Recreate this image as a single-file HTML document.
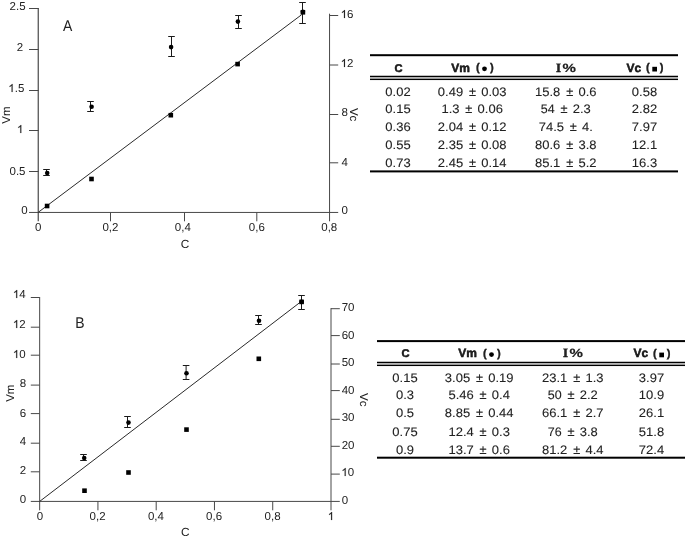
<!DOCTYPE html>
<html><head><meta charset="utf-8"><title>Figure</title>
<style>
html,body{margin:0;padding:0;background:#fff;}
body{width:685px;height:541px;overflow:hidden;}
svg{display:block;will-change:transform;}
text{font-family:"Liberation Sans", sans-serif;fill:#222;text-rendering:geometricPrecision;}
</style></head>
<body>
<svg width="685" height="541" viewBox="0 0 685 541">
<line x1="38.25" y1="8.00" x2="38.25" y2="221.30" stroke="#484848" stroke-width="1.2"/>
<line x1="29.00" y1="212.45" x2="338.20" y2="212.45" stroke="#484848" stroke-width="1.0"/>
<line x1="329.55" y1="13.70" x2="329.55" y2="221.30" stroke="#484848" stroke-width="1.0"/>
<line x1="29.00" y1="8.50" x2="38.60" y2="8.50" stroke="#484848" stroke-width="1.0"/>
<line x1="29.00" y1="49.50" x2="38.60" y2="49.50" stroke="#484848" stroke-width="1.0"/>
<line x1="29.00" y1="90.50" x2="38.60" y2="90.50" stroke="#484848" stroke-width="1.0"/>
<line x1="29.00" y1="130.50" x2="38.60" y2="130.50" stroke="#484848" stroke-width="1.0"/>
<line x1="29.00" y1="171.50" x2="38.60" y2="171.50" stroke="#484848" stroke-width="1.0"/>
<text x="27.70" y="213.90" font-size="11.5" text-anchor="end" >0</text>
<text x="25.50" y="174.80" font-size="11.5" text-anchor="end" >0.5</text>
<path d="M763 0H583V1147Q518 1085 412.5 1023T223 930V1104Q374 1175 487 1276T647 1472H763V0Z" transform="translate(17.01,133.00) scale(0.005615,-0.005447)" fill="#222" stroke="#222" stroke-width="26.7"/>
<path d="M763 0H583V1147Q518 1085 412.5 1023T223 930V1104Q374 1175 487 1276T647 1472H763V0Z" transform="translate(8.31,92.00) scale(0.005615,-0.005447)" fill="#222" stroke="#222" stroke-width="26.7"/>
<text x="14.71" y="92.20" font-size="11.5" >.</text>
<text x="17.91" y="92.20" font-size="11.5" >5</text>
<text x="23.20" y="51.00" font-size="11.5" text-anchor="end" >2</text>
<text x="25.60" y="9.50" font-size="11.5" text-anchor="end" >2.5</text>
<line x1="110.50" y1="212.45" x2="110.50" y2="221.30" stroke="#484848" stroke-width="1.0"/>
<line x1="184.50" y1="212.45" x2="184.50" y2="221.30" stroke="#484848" stroke-width="1.0"/>
<line x1="256.80" y1="212.45" x2="256.80" y2="221.30" stroke="#484848" stroke-width="1.0"/>
<text x="38.30" y="231.00" font-size="11.5" text-anchor="middle" >0</text>
<text x="110.45" y="231.00" font-size="11.5" text-anchor="middle" >0,2</text>
<text x="182.85" y="231.00" font-size="11.5" text-anchor="middle" >0,4</text>
<text x="256.85" y="231.00" font-size="11.5" text-anchor="middle" >0,6</text>
<text x="329.25" y="231.00" font-size="11.5" text-anchor="middle" >0,8</text>
<line x1="329.55" y1="15.50" x2="338.20" y2="15.50" stroke="#484848" stroke-width="1.0"/>
<line x1="329.55" y1="65.00" x2="338.20" y2="65.00" stroke="#484848" stroke-width="1.0"/>
<line x1="329.55" y1="114.50" x2="338.20" y2="114.50" stroke="#484848" stroke-width="1.0"/>
<line x1="329.55" y1="162.80" x2="338.20" y2="162.80" stroke="#484848" stroke-width="1.0"/>
<text x="341.60" y="213.80" font-size="11.5" text-anchor="start" >0</text>
<text x="341.60" y="165.50" font-size="11.5" text-anchor="start" >4</text>
<text x="341.60" y="115.70" font-size="11.5" text-anchor="start" >8</text>
<path d="M763 0H583V1147Q518 1085 412.5 1023T223 930V1104Q374 1175 487 1276T647 1472H763V0Z" transform="translate(340.70,67.00) scale(0.005615,-0.005447)" fill="#222" stroke="#222" stroke-width="26.7"/>
<text x="347.09" y="66.60" font-size="11.5" >2</text>
<path d="M763 0H583V1147Q518 1085 412.5 1023T223 930V1104Q374 1175 487 1276T647 1472H763V0Z" transform="translate(340.70,18.00) scale(0.005615,-0.005447)" fill="#222" stroke="#222" stroke-width="26.7"/>
<text x="347.09" y="17.50" font-size="11.5" >6</text>
<text x="185.00" y="248.40" font-size="11.8" text-anchor="middle" >C</text>
<text transform="translate(63.0,31.0) scale(0.9,1)" font-size="15.5">A</text>
<text transform="translate(10.2,115) rotate(-90)" font-size="11.5" text-anchor="middle">Vm</text>
<text transform="translate(349.8,114.6) rotate(90)" font-size="11.5" text-anchor="middle">Vc</text>
<line x1="38.25" y1="212.30" x2="301.50" y2="14.80" stroke="#2a2a2a" stroke-width="1.0"/>
<line x1="46.50" y1="169.50" x2="46.50" y2="175.50" stroke="#1a1a1a" stroke-width="1.0"/>
<line x1="43.20" y1="169.50" x2="49.80" y2="169.50" stroke="#1a1a1a" stroke-width="1.0"/>
<line x1="43.20" y1="175.50" x2="49.80" y2="175.50" stroke="#1a1a1a" stroke-width="1.0"/>
<circle cx="47.20" cy="173.00" r="2.3" fill="#000"/>
<rect x="44.80" y="203.70" width="4.6" height="4.6" fill="#000"/>
<line x1="90.50" y1="101.50" x2="90.50" y2="111.50" stroke="#1a1a1a" stroke-width="1.0"/>
<line x1="87.20" y1="101.50" x2="93.80" y2="101.50" stroke="#1a1a1a" stroke-width="1.0"/>
<line x1="87.20" y1="111.50" x2="93.80" y2="111.50" stroke="#1a1a1a" stroke-width="1.0"/>
<circle cx="91.60" cy="106.70" r="2.3" fill="#000"/>
<rect x="89.20" y="176.70" width="4.6" height="4.6" fill="#000"/>
<line x1="171.50" y1="36.50" x2="171.50" y2="56.50" stroke="#1a1a1a" stroke-width="1.0"/>
<line x1="168.20" y1="36.50" x2="174.80" y2="36.50" stroke="#1a1a1a" stroke-width="1.0"/>
<line x1="168.20" y1="56.50" x2="174.80" y2="56.50" stroke="#1a1a1a" stroke-width="1.0"/>
<circle cx="171.10" cy="47.10" r="2.3" fill="#000"/>
<rect x="168.50" y="112.90" width="4.6" height="4.6" fill="#000"/>
<line x1="238.50" y1="15.50" x2="238.50" y2="28.50" stroke="#1a1a1a" stroke-width="1.0"/>
<line x1="235.20" y1="15.50" x2="241.80" y2="15.50" stroke="#1a1a1a" stroke-width="1.0"/>
<line x1="235.20" y1="28.50" x2="241.80" y2="28.50" stroke="#1a1a1a" stroke-width="1.0"/>
<circle cx="237.90" cy="21.60" r="2.3" fill="#000"/>
<rect x="235.30" y="61.80" width="4.6" height="4.6" fill="#000"/>
<line x1="302.50" y1="2.50" x2="302.50" y2="23.50" stroke="#1a1a1a" stroke-width="1.0"/>
<line x1="299.20" y1="2.50" x2="305.80" y2="2.50" stroke="#1a1a1a" stroke-width="1.0"/>
<line x1="299.20" y1="23.50" x2="305.80" y2="23.50" stroke="#1a1a1a" stroke-width="1.0"/>
<circle cx="302.90" cy="11.80" r="2.3" fill="#000"/>
<rect x="300.60" y="10.00" width="4.6" height="4.6" fill="#000"/>
<line x1="39.66" y1="297.00" x2="39.66" y2="510.30" stroke="#484848" stroke-width="1.0"/>
<line x1="30.80" y1="501.42" x2="339.80" y2="501.42" stroke="#484848" stroke-width="1.0"/>
<line x1="331.00" y1="308.10" x2="331.00" y2="510.30" stroke="#484848" stroke-width="1.0"/>
<line x1="30.80" y1="471.80" x2="39.66" y2="471.80" stroke="#484848" stroke-width="1.0"/>
<line x1="30.80" y1="443.20" x2="39.66" y2="443.20" stroke="#484848" stroke-width="1.0"/>
<line x1="30.80" y1="413.60" x2="39.66" y2="413.60" stroke="#484848" stroke-width="1.0"/>
<line x1="30.80" y1="385.10" x2="39.66" y2="385.10" stroke="#484848" stroke-width="1.0"/>
<line x1="30.80" y1="355.20" x2="39.66" y2="355.20" stroke="#484848" stroke-width="1.0"/>
<line x1="30.80" y1="327.20" x2="39.66" y2="327.20" stroke="#484848" stroke-width="1.0"/>
<line x1="30.80" y1="297.50" x2="39.66" y2="297.50" stroke="#484848" stroke-width="1.0"/>
<text x="26.20" y="502.70" font-size="11.5" text-anchor="end" >0</text>
<text x="26.20" y="474.30" font-size="11.5" text-anchor="end" >2</text>
<text x="26.20" y="444.70" font-size="11.5" text-anchor="end" >4</text>
<text x="26.20" y="416.90" font-size="11.5" text-anchor="end" >6</text>
<text x="26.20" y="387.10" font-size="11.5" text-anchor="end" >8</text>
<path d="M763 0H583V1147Q518 1085 412.5 1023T223 930V1104Q374 1175 487 1276T647 1472H763V0Z" transform="translate(12.91,358.00) scale(0.005615,-0.005447)" fill="#222" stroke="#222" stroke-width="26.7"/>
<text x="19.31" y="357.70" font-size="11.5" >0</text>
<path d="M763 0H583V1147Q518 1085 412.5 1023T223 930V1104Q374 1175 487 1276T647 1472H763V0Z" transform="translate(12.91,328.00) scale(0.005615,-0.005447)" fill="#222" stroke="#222" stroke-width="26.7"/>
<text x="19.31" y="328.30" font-size="11.5" >2</text>
<path d="M763 0H583V1147Q518 1085 412.5 1023T223 930V1104Q374 1175 487 1276T647 1472H763V0Z" transform="translate(12.91,298.00) scale(0.005615,-0.005447)" fill="#222" stroke="#222" stroke-width="26.7"/>
<text x="19.31" y="298.40" font-size="11.5" >4</text>
<line x1="97.93" y1="501.42" x2="97.93" y2="510.30" stroke="#484848" stroke-width="1.0"/>
<line x1="156.20" y1="501.42" x2="156.20" y2="510.30" stroke="#484848" stroke-width="1.0"/>
<line x1="214.46" y1="501.42" x2="214.46" y2="510.30" stroke="#484848" stroke-width="1.0"/>
<line x1="272.73" y1="501.42" x2="272.73" y2="510.30" stroke="#484848" stroke-width="1.0"/>
<text x="39.90" y="520.40" font-size="11.5" text-anchor="middle" >0</text>
<text x="97.60" y="520.40" font-size="11.5" text-anchor="middle" >0,2</text>
<text x="155.90" y="520.40" font-size="11.5" text-anchor="middle" >0,4</text>
<text x="214.10" y="520.40" font-size="11.5" text-anchor="middle" >0,6</text>
<text x="272.60" y="520.40" font-size="11.5" text-anchor="middle" >0,8</text>
<path d="M763 0H583V1147Q518 1085 412.5 1023T223 930V1104Q374 1175 487 1276T647 1472H763V0Z" transform="translate(327.80,520.00) scale(0.005615,-0.005447)" fill="#222" stroke="#222" stroke-width="26.7"/>
<line x1="331.00" y1="474.10" x2="339.80" y2="474.10" stroke="#484848" stroke-width="1.0"/>
<line x1="331.00" y1="446.30" x2="339.80" y2="446.30" stroke="#484848" stroke-width="1.0"/>
<line x1="331.00" y1="419.30" x2="339.80" y2="419.30" stroke="#484848" stroke-width="1.0"/>
<line x1="331.00" y1="390.60" x2="339.80" y2="390.60" stroke="#484848" stroke-width="1.0"/>
<line x1="331.00" y1="364.00" x2="339.80" y2="364.00" stroke="#484848" stroke-width="1.0"/>
<line x1="331.00" y1="335.60" x2="339.80" y2="335.60" stroke="#484848" stroke-width="1.0"/>
<line x1="331.00" y1="308.70" x2="339.80" y2="308.70" stroke="#484848" stroke-width="1.0"/>
<text x="341.70" y="504.02" font-size="11.5" text-anchor="start" >0</text>
<path d="M763 0H583V1147Q518 1085 412.5 1023T223 930V1104Q374 1175 487 1276T647 1472H763V0Z" transform="translate(341.40,476.00) scale(0.005615,-0.005447)" fill="#222" stroke="#222" stroke-width="26.7"/>
<text x="347.79" y="476.47" font-size="11.5" >0</text>
<text x="341.70" y="448.93" font-size="11.5" text-anchor="start" >20</text>
<text x="341.70" y="421.38" font-size="11.5" text-anchor="start" >30</text>
<text x="341.70" y="393.84" font-size="11.5" text-anchor="start" >40</text>
<text x="341.70" y="366.29" font-size="11.5" text-anchor="start" >50</text>
<text x="341.70" y="338.75" font-size="11.5" text-anchor="start" >60</text>
<text x="341.70" y="311.20" font-size="11.5" text-anchor="start" >70</text>
<text x="185.20" y="535.70" font-size="11.8" text-anchor="middle" >C</text>
<text transform="translate(75.3,327.9) scale(0.9,1)" font-size="15.5">B</text>
<text transform="translate(13.9,393.2) rotate(-90)" font-size="11.5" text-anchor="middle">Vm</text>
<text transform="translate(359.9,399.8) rotate(90)" font-size="11.5" text-anchor="middle">Vc</text>
<line x1="39.66" y1="501.42" x2="301.60" y2="301.20" stroke="#2a2a2a" stroke-width="1.0"/>
<line x1="83.50" y1="454.50" x2="83.50" y2="460.50" stroke="#1a1a1a" stroke-width="1.0"/>
<line x1="80.20" y1="454.50" x2="86.80" y2="454.50" stroke="#1a1a1a" stroke-width="1.0"/>
<line x1="80.20" y1="460.50" x2="86.80" y2="460.50" stroke="#1a1a1a" stroke-width="1.0"/>
<circle cx="84.20" cy="458.00" r="2.3" fill="#000"/>
<rect x="82.20" y="488.40" width="4.6" height="4.6" fill="#000"/>
<line x1="127.50" y1="416.50" x2="127.50" y2="427.50" stroke="#1a1a1a" stroke-width="1.0"/>
<line x1="124.20" y1="416.50" x2="130.80" y2="416.50" stroke="#1a1a1a" stroke-width="1.0"/>
<line x1="124.20" y1="427.50" x2="130.80" y2="427.50" stroke="#1a1a1a" stroke-width="1.0"/>
<circle cx="128.50" cy="422.60" r="2.3" fill="#000"/>
<rect x="126.20" y="470.20" width="4.6" height="4.6" fill="#000"/>
<line x1="186.10" y1="365.50" x2="186.10" y2="379.50" stroke="#1a1a1a" stroke-width="1.0"/>
<line x1="182.80" y1="365.50" x2="189.40" y2="365.50" stroke="#1a1a1a" stroke-width="1.0"/>
<line x1="182.80" y1="379.50" x2="189.40" y2="379.50" stroke="#1a1a1a" stroke-width="1.0"/>
<circle cx="186.50" cy="373.20" r="2.3" fill="#000"/>
<rect x="184.20" y="427.30" width="4.6" height="4.6" fill="#000"/>
<line x1="258.50" y1="315.50" x2="258.50" y2="324.50" stroke="#1a1a1a" stroke-width="1.0"/>
<line x1="255.20" y1="315.50" x2="261.80" y2="315.50" stroke="#1a1a1a" stroke-width="1.0"/>
<line x1="255.20" y1="324.50" x2="261.80" y2="324.50" stroke="#1a1a1a" stroke-width="1.0"/>
<circle cx="259.00" cy="320.70" r="2.3" fill="#000"/>
<rect x="256.50" y="356.50" width="4.6" height="4.6" fill="#000"/>
<line x1="301.50" y1="295.50" x2="301.50" y2="309.50" stroke="#1a1a1a" stroke-width="1.0"/>
<line x1="298.20" y1="295.50" x2="304.80" y2="295.50" stroke="#1a1a1a" stroke-width="1.0"/>
<line x1="298.20" y1="309.50" x2="304.80" y2="309.50" stroke="#1a1a1a" stroke-width="1.0"/>
<circle cx="301.60" cy="301.80" r="2.3" fill="#000"/>
<rect x="299.30" y="299.60" width="4.6" height="4.6" fill="#000"/>
<rect x="370.0" y="54.20" width="308.0" height="2" fill="#000"/>
<rect x="370.0" y="77.00" width="308.0" height="1.8" fill="#b4b4b4"/>
<rect x="370.0" y="75.75" width="308.0" height="1.25" fill="#000"/>
<rect x="370.0" y="78.80" width="308.0" height="1.25" fill="#000"/>
<rect x="370.0" y="170.40" width="308.0" height="2" fill="#000"/>
<text x="398.50" y="71.60" font-size="11.2" font-weight="bold" stroke="#000" stroke-width="0.45" text-anchor="middle" fill="#000">C</text>
<text x="451.20" y="71.60" font-size="12" font-weight="bold" stroke="#000" stroke-width="0.45" fill="#000">Vm</text>
<text x="476.10" y="71.15" font-size="11.2" font-weight="bold" stroke="#000" stroke-width="0.3" fill="#000">(</text>
<circle cx="484.50" cy="68.80" r="2.4" fill="#000"/>
<text x="489.90" y="71.15" font-size="11.2" font-weight="bold" stroke="#000" stroke-width="0.3" fill="#000">)</text>
<text x="555.90" y="71.60" font-size="12.8" font-weight="bold" stroke="#000" stroke-width="0.4" style="font-family:'Liberation Serif',serif" fill="#000">I</text>
<text x="562.60" y="71.60" font-size="12" font-weight="bold" stroke="#000" stroke-width="0.15" fill="#000" textLength="13.4" lengthAdjust="spacingAndGlyphs">%</text>
<text x="626.50" y="71.60" font-size="12" font-weight="bold" stroke="#000" stroke-width="0.45" fill="#000">Vc</text>
<text x="646.00" y="71.15" font-size="11.2" font-weight="bold" stroke="#000" stroke-width="0.3" fill="#000">(</text>
<rect x="652.30" y="66.80" width="4.7" height="4.7" fill="#000"/>
<text x="659.80" y="71.15" font-size="11.2" font-weight="bold" stroke="#000" stroke-width="0.3" fill="#000">)</text>
<text x="385.36" y="95.50" font-size="12.3" fill="#222" stroke="#222" stroke-width="0.1" lengthAdjust="spacingAndGlyphs" textLength="25.27">0.02</text>
<text x="437.86" y="95.50" font-size="12.3" fill="#222" stroke="#222" stroke-width="0.1" lengthAdjust="spacingAndGlyphs" textLength="25.27">0.49</text>
<text x="472.50" y="95.50" text-anchor="middle" font-size="12.8" fill="#222" stroke="#222" stroke-width="0.15">±</text>
<text x="481.27" y="95.50" font-size="12.3" fill="#222" stroke="#222" stroke-width="0.1" lengthAdjust="spacingAndGlyphs" textLength="25.27">0.03</text>
<text x="535.08" y="95.50" font-size="12.3" fill="#222" stroke="#222" stroke-width="0.1" lengthAdjust="spacingAndGlyphs" textLength="25.27">15.8</text>
<text x="569.72" y="95.50" text-anchor="middle" font-size="12.8" fill="#222" stroke="#222" stroke-width="0.15">±</text>
<text x="578.49" y="95.50" font-size="12.3" fill="#222" stroke="#222" stroke-width="0.1" lengthAdjust="spacingAndGlyphs" textLength="18.03">0.6</text>
<text x="631.86" y="95.50" font-size="12.3" fill="#222" stroke="#222" stroke-width="0.1" lengthAdjust="spacingAndGlyphs" textLength="25.27">0.58</text>
<text x="385.36" y="113.00" font-size="12.3" fill="#222" stroke="#222" stroke-width="0.1" lengthAdjust="spacingAndGlyphs" textLength="25.27">0.15</text>
<text x="441.48" y="113.00" font-size="12.3" fill="#222" stroke="#222" stroke-width="0.1" lengthAdjust="spacingAndGlyphs" textLength="18.03">1.3</text>
<text x="468.88" y="113.00" text-anchor="middle" font-size="12.8" fill="#222" stroke="#222" stroke-width="0.15">±</text>
<text x="477.64" y="113.00" font-size="12.3" fill="#222" stroke="#222" stroke-width="0.1" lengthAdjust="spacingAndGlyphs" textLength="25.27">0.06</text>
<text x="540.77" y="113.00" font-size="12.3" fill="#222" stroke="#222" stroke-width="0.1" lengthAdjust="spacingAndGlyphs" textLength="13.89">54</text>
<text x="564.03" y="113.00" text-anchor="middle" font-size="12.8" fill="#222" stroke="#222" stroke-width="0.15">±</text>
<text x="572.80" y="113.00" font-size="12.3" fill="#222" stroke="#222" stroke-width="0.1" lengthAdjust="spacingAndGlyphs" textLength="18.03">2.3</text>
<text x="631.86" y="113.00" font-size="12.3" fill="#222" stroke="#222" stroke-width="0.1" lengthAdjust="spacingAndGlyphs" textLength="25.27">2.82</text>
<text x="385.36" y="130.80" font-size="12.3" fill="#222" stroke="#222" stroke-width="0.1" lengthAdjust="spacingAndGlyphs" textLength="25.27">0.36</text>
<text x="437.86" y="130.80" font-size="12.3" fill="#222" stroke="#222" stroke-width="0.1" lengthAdjust="spacingAndGlyphs" textLength="25.27">2.04</text>
<text x="472.50" y="130.80" text-anchor="middle" font-size="12.8" fill="#222" stroke="#222" stroke-width="0.15">±</text>
<text x="481.27" y="130.80" font-size="12.3" fill="#222" stroke="#222" stroke-width="0.1" lengthAdjust="spacingAndGlyphs" textLength="25.27">0.12</text>
<text x="538.70" y="130.80" font-size="12.3" fill="#222" stroke="#222" stroke-width="0.1" lengthAdjust="spacingAndGlyphs" textLength="25.27">74.5</text>
<text x="573.35" y="130.80" text-anchor="middle" font-size="12.8" fill="#222" stroke="#222" stroke-width="0.15">±</text>
<text x="582.11" y="130.80" font-size="12.3" fill="#222" stroke="#222" stroke-width="0.1" lengthAdjust="spacingAndGlyphs" textLength="10.79">4.</text>
<text x="631.86" y="130.80" font-size="12.3" fill="#222" stroke="#222" stroke-width="0.1" lengthAdjust="spacingAndGlyphs" textLength="25.27">7.97</text>
<text x="385.36" y="149.40" font-size="12.3" fill="#222" stroke="#222" stroke-width="0.1" lengthAdjust="spacingAndGlyphs" textLength="25.27">0.55</text>
<text x="437.86" y="149.40" font-size="12.3" fill="#222" stroke="#222" stroke-width="0.1" lengthAdjust="spacingAndGlyphs" textLength="25.27">2.35</text>
<text x="472.50" y="149.40" text-anchor="middle" font-size="12.8" fill="#222" stroke="#222" stroke-width="0.15">±</text>
<text x="481.27" y="149.40" font-size="12.3" fill="#222" stroke="#222" stroke-width="0.1" lengthAdjust="spacingAndGlyphs" textLength="25.27">0.08</text>
<text x="535.08" y="149.40" font-size="12.3" fill="#222" stroke="#222" stroke-width="0.1" lengthAdjust="spacingAndGlyphs" textLength="25.27">80.6</text>
<text x="569.72" y="149.40" text-anchor="middle" font-size="12.8" fill="#222" stroke="#222" stroke-width="0.15">±</text>
<text x="578.49" y="149.40" font-size="12.3" fill="#222" stroke="#222" stroke-width="0.1" lengthAdjust="spacingAndGlyphs" textLength="18.03">3.8</text>
<text x="631.86" y="149.40" font-size="12.3" fill="#222" stroke="#222" stroke-width="0.1" lengthAdjust="spacingAndGlyphs" textLength="25.27">12.1</text>
<text x="385.36" y="167.30" font-size="12.3" fill="#222" stroke="#222" stroke-width="0.1" lengthAdjust="spacingAndGlyphs" textLength="25.27">0.73</text>
<text x="437.86" y="167.30" font-size="12.3" fill="#222" stroke="#222" stroke-width="0.1" lengthAdjust="spacingAndGlyphs" textLength="25.27">2.45</text>
<text x="472.50" y="167.30" text-anchor="middle" font-size="12.8" fill="#222" stroke="#222" stroke-width="0.15">±</text>
<text x="481.27" y="167.30" font-size="12.3" fill="#222" stroke="#222" stroke-width="0.1" lengthAdjust="spacingAndGlyphs" textLength="25.27">0.14</text>
<text x="535.08" y="167.30" font-size="12.3" fill="#222" stroke="#222" stroke-width="0.1" lengthAdjust="spacingAndGlyphs" textLength="25.27">85.1</text>
<text x="569.72" y="167.30" text-anchor="middle" font-size="12.8" fill="#222" stroke="#222" stroke-width="0.15">±</text>
<text x="578.49" y="167.30" font-size="12.3" fill="#222" stroke="#222" stroke-width="0.1" lengthAdjust="spacingAndGlyphs" textLength="18.03">5.2</text>
<text x="631.86" y="167.30" font-size="12.3" fill="#222" stroke="#222" stroke-width="0.1" lengthAdjust="spacingAndGlyphs" textLength="25.27">16.3</text>
<rect x="377.0" y="340.10" width="308.0" height="2" fill="#000"/>
<rect x="377.0" y="363.00" width="308.0" height="1.8" fill="#b4b4b4"/>
<rect x="377.0" y="361.75" width="308.0" height="1.25" fill="#000"/>
<rect x="377.0" y="364.80" width="308.0" height="1.25" fill="#000"/>
<rect x="377.0" y="456.70" width="308.0" height="2" fill="#000"/>
<text x="405.50" y="357.40" font-size="11.2" font-weight="bold" stroke="#000" stroke-width="0.45" text-anchor="middle" fill="#000">C</text>
<text x="458.20" y="357.40" font-size="12" font-weight="bold" stroke="#000" stroke-width="0.45" fill="#000">Vm</text>
<text x="483.10" y="356.95" font-size="11.2" font-weight="bold" stroke="#000" stroke-width="0.3" fill="#000">(</text>
<circle cx="491.50" cy="354.60" r="2.4" fill="#000"/>
<text x="496.90" y="356.95" font-size="11.2" font-weight="bold" stroke="#000" stroke-width="0.3" fill="#000">)</text>
<text x="562.90" y="357.40" font-size="12.8" font-weight="bold" stroke="#000" stroke-width="0.4" style="font-family:'Liberation Serif',serif" fill="#000">I</text>
<text x="569.60" y="357.40" font-size="12" font-weight="bold" stroke="#000" stroke-width="0.15" fill="#000" textLength="13.4" lengthAdjust="spacingAndGlyphs">%</text>
<text x="633.50" y="357.40" font-size="12" font-weight="bold" stroke="#000" stroke-width="0.45" fill="#000">Vc</text>
<text x="653.00" y="356.95" font-size="11.2" font-weight="bold" stroke="#000" stroke-width="0.3" fill="#000">(</text>
<rect x="659.30" y="352.60" width="4.7" height="4.7" fill="#000"/>
<text x="666.80" y="356.95" font-size="11.2" font-weight="bold" stroke="#000" stroke-width="0.3" fill="#000">)</text>
<text x="392.36" y="381.80" font-size="12.3" fill="#222" stroke="#222" stroke-width="0.1" lengthAdjust="spacingAndGlyphs" textLength="25.27">0.15</text>
<text x="444.86" y="381.80" font-size="12.3" fill="#222" stroke="#222" stroke-width="0.1" lengthAdjust="spacingAndGlyphs" textLength="25.27">3.05</text>
<text x="479.50" y="381.80" text-anchor="middle" font-size="12.8" fill="#222" stroke="#222" stroke-width="0.15">±</text>
<text x="488.27" y="381.80" font-size="12.3" fill="#222" stroke="#222" stroke-width="0.1" lengthAdjust="spacingAndGlyphs" textLength="25.27">0.19</text>
<text x="542.08" y="381.80" font-size="12.3" fill="#222" stroke="#222" stroke-width="0.1" lengthAdjust="spacingAndGlyphs" textLength="25.27">23.1</text>
<text x="576.72" y="381.80" text-anchor="middle" font-size="12.8" fill="#222" stroke="#222" stroke-width="0.15">±</text>
<text x="585.49" y="381.80" font-size="12.3" fill="#222" stroke="#222" stroke-width="0.1" lengthAdjust="spacingAndGlyphs" textLength="18.03">1.3</text>
<text x="638.86" y="381.80" font-size="12.3" fill="#222" stroke="#222" stroke-width="0.1" lengthAdjust="spacingAndGlyphs" textLength="25.27">3.97</text>
<text x="395.99" y="398.90" font-size="12.3" fill="#222" stroke="#222" stroke-width="0.1" lengthAdjust="spacingAndGlyphs" textLength="18.03">0.3</text>
<text x="448.48" y="398.90" font-size="12.3" fill="#222" stroke="#222" stroke-width="0.1" lengthAdjust="spacingAndGlyphs" textLength="25.27">5.46</text>
<text x="483.12" y="398.90" text-anchor="middle" font-size="12.8" fill="#222" stroke="#222" stroke-width="0.15">±</text>
<text x="491.89" y="398.90" font-size="12.3" fill="#222" stroke="#222" stroke-width="0.1" lengthAdjust="spacingAndGlyphs" textLength="18.03">0.4</text>
<text x="547.77" y="398.90" font-size="12.3" fill="#222" stroke="#222" stroke-width="0.1" lengthAdjust="spacingAndGlyphs" textLength="13.89">50</text>
<text x="571.03" y="398.90" text-anchor="middle" font-size="12.8" fill="#222" stroke="#222" stroke-width="0.15">±</text>
<text x="579.80" y="398.90" font-size="12.3" fill="#222" stroke="#222" stroke-width="0.1" lengthAdjust="spacingAndGlyphs" textLength="18.03">2.2</text>
<text x="638.86" y="398.90" font-size="12.3" fill="#222" stroke="#222" stroke-width="0.1" lengthAdjust="spacingAndGlyphs" textLength="25.27">10.9</text>
<text x="395.99" y="417.20" font-size="12.3" fill="#222" stroke="#222" stroke-width="0.1" lengthAdjust="spacingAndGlyphs" textLength="18.03">0.5</text>
<text x="444.86" y="417.20" font-size="12.3" fill="#222" stroke="#222" stroke-width="0.1" lengthAdjust="spacingAndGlyphs" textLength="25.27">8.85</text>
<text x="479.50" y="417.20" text-anchor="middle" font-size="12.8" fill="#222" stroke="#222" stroke-width="0.15">±</text>
<text x="488.27" y="417.20" font-size="12.3" fill="#222" stroke="#222" stroke-width="0.1" lengthAdjust="spacingAndGlyphs" textLength="25.27">0.44</text>
<text x="542.08" y="417.20" font-size="12.3" fill="#222" stroke="#222" stroke-width="0.1" lengthAdjust="spacingAndGlyphs" textLength="25.27">66.1</text>
<text x="576.72" y="417.20" text-anchor="middle" font-size="12.8" fill="#222" stroke="#222" stroke-width="0.15">±</text>
<text x="585.49" y="417.20" font-size="12.3" fill="#222" stroke="#222" stroke-width="0.1" lengthAdjust="spacingAndGlyphs" textLength="18.03">2.7</text>
<text x="638.86" y="417.20" font-size="12.3" fill="#222" stroke="#222" stroke-width="0.1" lengthAdjust="spacingAndGlyphs" textLength="25.27">26.1</text>
<text x="392.36" y="435.80" font-size="12.3" fill="#222" stroke="#222" stroke-width="0.1" lengthAdjust="spacingAndGlyphs" textLength="25.27">0.75</text>
<text x="448.48" y="435.80" font-size="12.3" fill="#222" stroke="#222" stroke-width="0.1" lengthAdjust="spacingAndGlyphs" textLength="25.27">12.4</text>
<text x="483.12" y="435.80" text-anchor="middle" font-size="12.8" fill="#222" stroke="#222" stroke-width="0.15">±</text>
<text x="491.89" y="435.80" font-size="12.3" fill="#222" stroke="#222" stroke-width="0.1" lengthAdjust="spacingAndGlyphs" textLength="18.03">0.3</text>
<text x="547.77" y="435.80" font-size="12.3" fill="#222" stroke="#222" stroke-width="0.1" lengthAdjust="spacingAndGlyphs" textLength="13.89">76</text>
<text x="571.03" y="435.80" text-anchor="middle" font-size="12.8" fill="#222" stroke="#222" stroke-width="0.15">±</text>
<text x="579.80" y="435.80" font-size="12.3" fill="#222" stroke="#222" stroke-width="0.1" lengthAdjust="spacingAndGlyphs" textLength="18.03">3.8</text>
<text x="638.86" y="435.80" font-size="12.3" fill="#222" stroke="#222" stroke-width="0.1" lengthAdjust="spacingAndGlyphs" textLength="25.27">51.8</text>
<text x="395.99" y="453.80" font-size="12.3" fill="#222" stroke="#222" stroke-width="0.1" lengthAdjust="spacingAndGlyphs" textLength="18.03">0.9</text>
<text x="448.48" y="453.80" font-size="12.3" fill="#222" stroke="#222" stroke-width="0.1" lengthAdjust="spacingAndGlyphs" textLength="25.27">13.7</text>
<text x="483.12" y="453.80" text-anchor="middle" font-size="12.8" fill="#222" stroke="#222" stroke-width="0.15">±</text>
<text x="491.89" y="453.80" font-size="12.3" fill="#222" stroke="#222" stroke-width="0.1" lengthAdjust="spacingAndGlyphs" textLength="18.03">0.6</text>
<text x="542.08" y="453.80" font-size="12.3" fill="#222" stroke="#222" stroke-width="0.1" lengthAdjust="spacingAndGlyphs" textLength="25.27">81.2</text>
<text x="576.72" y="453.80" text-anchor="middle" font-size="12.8" fill="#222" stroke="#222" stroke-width="0.15">±</text>
<text x="585.49" y="453.80" font-size="12.3" fill="#222" stroke="#222" stroke-width="0.1" lengthAdjust="spacingAndGlyphs" textLength="18.03">4.4</text>
<text x="638.86" y="453.80" font-size="12.3" fill="#222" stroke="#222" stroke-width="0.1" lengthAdjust="spacingAndGlyphs" textLength="25.27">72.4</text>
</svg>
</body></html>
